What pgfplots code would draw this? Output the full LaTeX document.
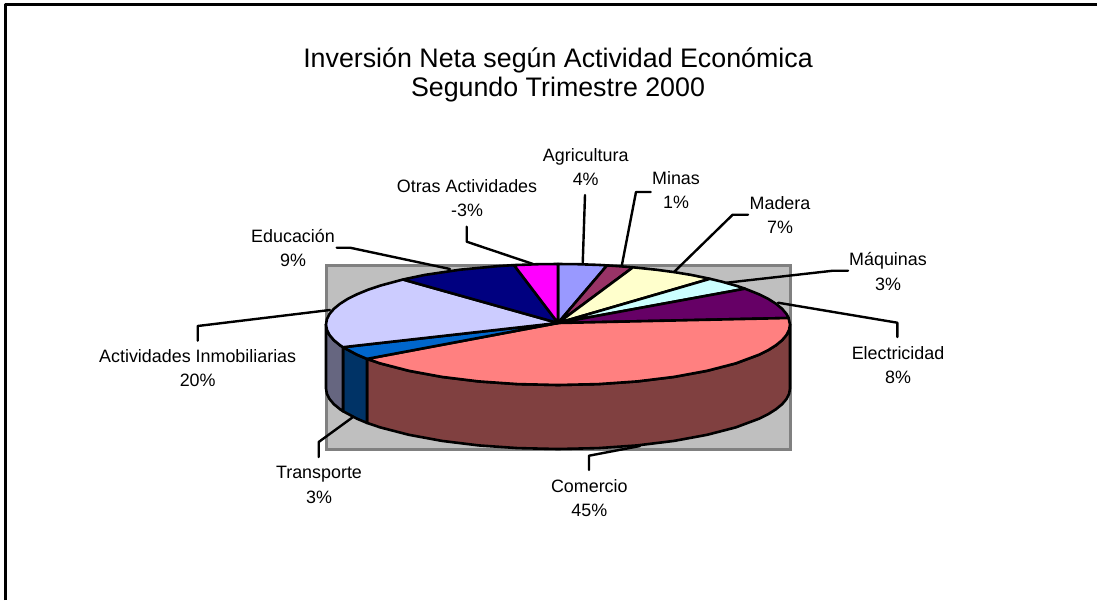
\documentclass[border=0pt]{standalone}
\usepackage{pgfplots}
\pgfplotsset{compat=1.18}
\usepackage{fontspec}
\setmainfont{Liberation Sans}
\definecolor{cAgri}{HTML}{9999FF}
\definecolor{cMinas}{HTML}{993366}
\definecolor{cMadera}{HTML}{FFFFCC}
\definecolor{cMaq}{HTML}{CCFFFF}
\definecolor{cElec}{HTML}{660066}
\definecolor{cCom}{HTML}{FF8080}
\definecolor{cComD}{HTML}{804040}
\definecolor{cTra}{HTML}{0066CC}
\definecolor{cTraD}{HTML}{003366}
\definecolor{cAct}{HTML}{CCCCFF}
\definecolor{cActD}{HTML}{666680}
\definecolor{cEdu}{HTML}{000080}
\definecolor{cOtr}{HTML}{FF00FF}
\newcommand{\lab}[4]{\node[font=\fontsize{17.9}{24.8}\selectfont,align=center,text=black,inner sep=0pt] at (axis cs:#1,#2) {#3\\#4};}
\begin{document}
\begin{tikzpicture}
\begin{axis}[
  width=1097pt,height=600pt,scale only axis,
  hide axis,clip=false,
  xmin=0,xmax=1097,ymin=0,ymax=600,y dir=reverse,
  every axis plot/.append style={line join=round,line cap=round},
]
\path[use as bounding box] (axis cs:0,0) rectangle (axis cs:1097,600);
% frame
\addplot[black,line width=2.4pt,line cap=butt] coordinates {(5.6,600) (5.6,4.4) (1097,4.4)};
% plot area
\addplot[fill=black!25,draw=black!50,line width=3pt,line join=miter] coordinates {(326,265) (790,265) (790,449) (326,449)} --cycle;
% walls
\addplot[fill=cComD,draw=black,line width=2.6pt] coordinates {
(790,324.5)(789.1,329.8)(786.5,335)(782.1,340.2)(776,345.2)(768.3,350.1)(758.9,354.75)(735.7,363.4)(707.1,370.8)(674,376.9)(637.3,381.4)(598.3,384.1)(558,385)(517.7,384.1)(478.7,381.4)(442,376.9)(408.9,370.8)(380.3,363.4)(367,358.9)
(367,422.9)(380.3,427.4)(408.9,434.8)(442,440.9)(478.7,445.4)(517.7,448.1)(558,449)(598.3,448.1)(637.3,445.4)(674,440.9)(707.1,434.8)(735.7,427.4)(758.9,418.75)(768.3,414.1)(776,409.2)(782.1,404.2)(786.5,399)(789.1,393.8)(790,388.5)} --cycle;
\addplot[fill=cTraD,draw=black,line width=2.6pt] coordinates {
(367,358.9)(357.1,354.75)(343,347.2)(343,411.2)(357.1,418.75)(367,422.9)} --cycle;
\addplot[fill=cActD,draw=black,line width=2.6pt] coordinates {
(343,347.2)(340,345.2)(333.9,340.2)(329.5,335)(326.9,329.8)(326,324.5)(326,388.5)(326.9,393.8)(329.5,399)(333.9,404.2)(340,409.2)(343,411.2)} --cycle;
% top slices
\addplot[fill=cAgri,draw=black,line width=2.6pt] coordinates {(558,323)(558,264)(578.2,264.2)(598.3,264.9)(607,265.4)} --cycle;
\addplot[fill=cMinas,draw=black,line width=2.6pt] coordinates {(558,323)(607,265.4)(618,266.1)(633,267.3)} --cycle;
\addplot[fill=cMadera,draw=black,line width=2.6pt] coordinates {(558,323)(633,267.3)(656,269.7)(674,272.1)(691.1,274.9)(710,278.8)} --cycle;
\addplot[fill=cMaq,draw=black,line width=2.6pt] coordinates {(558,323)(710,278.8)(722,281.7)(735.7,285.6)(745,288.7)} --cycle;
\addplot[fill=cElec,draw=black,line width=2.6pt] coordinates {(558,323)(745,288.7)(758.9,294.25)(768.3,298.9)(776,303.8)(782.1,308.8)(786.5,314)(788.6,318)} --cycle;
\addplot[fill=cCom,draw=black,line width=2.6pt] coordinates {(558,323)(788.6,318)(790,324.5)(789.1,329.8)(786.5,335)(782.1,340.2)(776,345.2)(768.3,350.1)(758.9,354.75)(735.7,363.4)(707.1,370.8)(674,376.9)(637.3,381.4)(598.3,384.1)(558,385)(517.7,384.1)(478.7,381.4)(442,376.9)(408.9,370.8)(380.3,363.4)(367,358.9)} --cycle;
\addplot[fill=cTra,draw=black,line width=2.6pt] coordinates {(558,323)(367,358.9)(357.1,354.75)(343,347.2)} --cycle;
\addplot[fill=cAct,draw=black,line width=2.6pt] coordinates {(558,323)(343,347.2)(340,345.2)(333.9,340.2)(329.5,335)(326.9,329.8)(326,324.5)(326.9,319.2)(329.5,314)(333.9,308.8)(340,303.8)(347.7,298.9)(357.1,294.25)(367.9,289.8)(380.3,285.6)(403,279.5)} --cycle;
\addplot[fill=cEdu,draw=black,line width=2.6pt] coordinates {(558,323)(403,279.5)(424.9,274.9)(460,269.7)(498,266.1)(514,265.1)} --cycle;
\addplot[fill=cOtr,draw=black,line width=2.6pt] coordinates {(558,323)(514,265.1)(537.8,264.2)(558,264)} --cycle;
% leaders
\addplot[black,line width=2.4pt] coordinates {(585,195)(582.7,264)};
\addplot[black,line width=2.4pt] coordinates {(650.7,192)(636,192)(621.7,266)};
\addplot[black,line width=2.4pt] coordinates {(466.7,226.7)(466.7,241.7)(533,264)};
\addplot[black,line width=2.4pt] coordinates {(748,214.7)(732.7,214.7)(674,272)};
\addplot[black,line width=2.4pt] coordinates {(848,270.7)(833,270.7)(726.7,282.7)};
\addplot[black,line width=2.4pt] coordinates {(897.3,337)(897.3,322.7)(778,302.7)};
\addplot[black,line width=2.4pt] coordinates {(197.7,340.7)(197.7,326)(330,310)};
\addplot[black,line width=2.4pt] coordinates {(336.7,247.7)(350,247.7)(450,269)};
\addplot[black,line width=2.4pt] coordinates {(318.7,457)(318.7,442)(353,417)};
\addplot[black,line width=2.4pt] coordinates {(589,470)(589,455.7)(640,446)};
% texts
\node[font=\fontsize{26.8}{29}\selectfont,align=center,text=black,inner sep=0pt] at (axis cs:558,74.5) {Inversión Neta según Actividad Económica\\Segundo Trimestre 2000};
\lab{585.7}{167}{Agricultura}{4\%}
\lab{676}{190}{Minas}{1\%}
\lab{467}{198}{Otras Actividades}{-3\%}
\lab{780}{215}{Madera}{7\%}
\lab{888}{271.5}{Máquinas}{3\%}
\lab{898}{365}{Electricidad}{8\%}
\lab{589.3}{498}{Comercio}{45\%}
\lab{319}{485}{Transporte}{3\%}
\lab{197.7}{368}{Actividades Inmobiliarias}{20\%}
\lab{293}{248}{Educación}{9\%}
\end{axis}
\end{tikzpicture}
\end{document}
